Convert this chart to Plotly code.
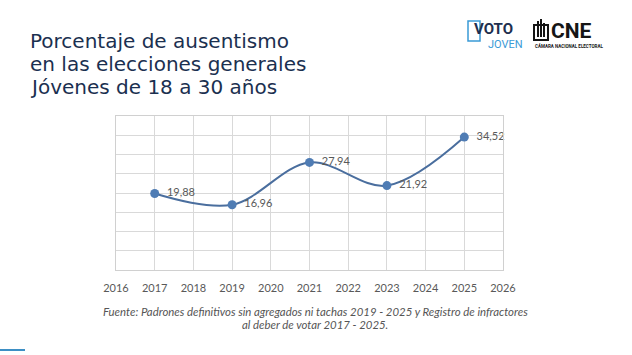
import plotly.graph_objects as go

years = [2017, 2019, 2021, 2023, 2025]
ausentismo = [19.88, 16.96, 27.94, 21.92, 34.52]
labels = ["19,88", "16,96", "27,94", "21,92", "34,52"]
x_ticks = list(range(2016, 2027))

W, H = 632, 355
L, R, T, B = 116, 503, 116, 270

def px(x):
    return (x - L) / (R - L)

def py(y):
    return (B - y) / (B - T)

fig = go.Figure()
fig.add_trace(go.Scatter(
    x=years, y=ausentismo, mode="lines+markers+text",
    line=dict(color="#4a6e9e", width=2, shape="spline", smoothing=1.0),
    marker=dict(color="#4f7cb4", size=9),
    text=["  " + t for t in labels], textposition="middle right",
    textfont=dict(family="Lato", size=11, color="#595959"),
    cliponaxis=False, hoverinfo="skip",
))

fig.update_xaxes(range=[2016, 2026], tickvals=x_ticks, ticktext=[str(v) for v in x_ticks],
                 showgrid=True, gridcolor="#d9d9d9", gridwidth=1,
                 showline=True, linecolor="#d0d0d0", mirror=True, zeroline=False,
                 tickfont=dict(family="Lato", size=11, color="#595959"), ticks="",
                 ticklabelstandoff=8)
fig.update_yaxes(range=[0, 40], dtick=5, showticklabels=False,
                 showgrid=True, gridcolor="#d9d9d9", gridwidth=1,
                 showline=True, linecolor="#d0d0d0", mirror=True, zeroline=False)

title_lines = ["Porcentaje de ausentismo", "en las elecciones generales", "Jóvenes de 18 a 30 años"]
for i, line in enumerate(title_lines):
    fig.add_annotation(x=px(28), y=py(40.5 + i * 23.5), xref="paper", yref="paper",
                       text=line, showarrow=False, xanchor="left", yanchor="middle",
                       font=dict(family="DejaVu Sans", size=20, color="#1b3050"))

src = ["Fuente: Padrones definitivos sin agregados ni tachas 2019 - 2025 y Registro de infractores",
       "al deber de votar 2017 - 2025."]
for i, line in enumerate(src):
    fig.add_annotation(x=px(315), y=py(311 + i * 13.5), xref="paper", yref="paper",
                       text="<i>" + line + "</i>", showarrow=False, xanchor="center", yanchor="middle",
                       font=dict(family="Lato", size=11.4, color="#555555"))

# Logos (decorative)
fig.add_annotation(x=px(472), y=py(29), xref="paper", yref="paper", text="<b>VOTO</b>",
                   showarrow=False, xanchor="left", yanchor="middle",
                   font=dict(family="Roboto", size=15, color="#1f3050"))
fig.add_annotation(x=px(486), y=py(45), xref="paper", yref="paper", text="JOVEN",
                   showarrow=False, xanchor="left", yanchor="middle",
                   font=dict(family="Roboto", size=11, color="#3a9ad6"))
fig.add_annotation(x=px(549), y=py(31), xref="paper", yref="paper", text="<b>CNE</b>",
                   showarrow=False, xanchor="left", yanchor="middle",
                   font=dict(family="Roboto", size=21, color="#151515"))
fig.add_annotation(x=px(533), y=py(46), xref="paper", yref="paper", text="<b>CÁMARA NACIONAL ELECTORAL</b>",
                   showarrow=False, xanchor="left", yanchor="middle",
                   font=dict(family="Roboto", size=4.5, color="#151515"))

shapes = [
    # check box of VOTO
    dict(type="rect", x0=px(468), x1=px(480), y0=py(41), y1=py(21), line=dict(color="#3a9ad6", width=1.5)),
    # CNE icon
    dict(type="rect", x0=px(534), x1=px(548), y0=py(40), y1=py(25), line=dict(color="#151515", width=2)),
    dict(type="line", x0=px(538), x1=px(538), y0=py(37), y1=py(21), line=dict(color="#151515", width=2)),
    dict(type="line", x0=px(541), x1=px(541), y0=py(37), y1=py(19), line=dict(color="#151515", width=2)),
    dict(type="line", x0=px(544), x1=px(544), y0=py(37), y1=py(23), line=dict(color="#151515", width=2)),
    # bottom-left accent
    dict(type="line", x0=px(0), x1=px(25), y0=py(350), y1=py(350), line=dict(color="#3d8fc4", width=2)),
]
for s in shapes:
    s.update(xref="paper", yref="paper")
fig.update_layout(shapes=shapes)

fig.update_layout(width=W, height=H, margin=dict(l=L, r=W - R, t=T, b=H - B),
                  paper_bgcolor="white", plot_bgcolor="white", showlegend=False)

fig.write_html("out.html")
